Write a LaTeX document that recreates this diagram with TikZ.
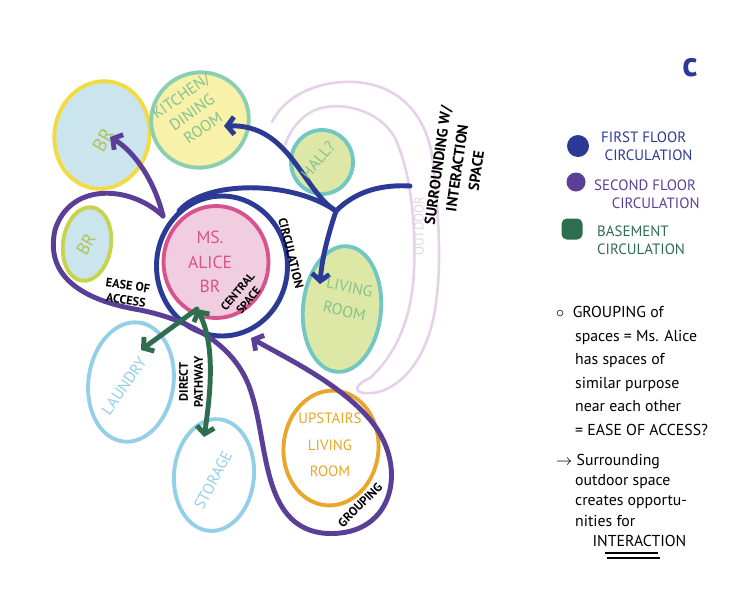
\documentclass[tikz,border=0pt]{standalone}
\usepackage{fontspec}
\setmainfont{PT Sans}
\usetikzlibrary{shapes.geometric,arrows.meta,calc}
\definecolor{fblue}{HTML}{2B3A94}
\definecolor{fpurple}{HTML}{5B3F97}
\definecolor{fgreen}{HTML}{2E6E4E}
\definecolor{outpink}{HTML}{E6D2E8}
\definecolor{bfill}{HTML}{CBE5EE}
\definecolor{yborder}{HTML}{F2DA40}
\definecolor{yfill}{HTML}{F7F1A9}
\definecolor{tealb}{HTML}{72C7C2}
\definecolor{kitb}{HTML}{8CCFB0}
\definecolor{gfill}{HTML}{DDE8A6}
\definecolor{oliveb}{HTML}{C9D24C}
\definecolor{pfill}{HTML}{F1CDE0}
\definecolor{pline}{HTML}{D75390}
\definecolor{lblue}{HTML}{94CFEA}
\definecolor{orangeb}{HTML}{E9A62A}
\definecolor{olivet}{HTML}{B2C257}
\definecolor{greent}{HTML}{86C190}
\begin{document}
\begin{tikzpicture}[x=0.02cm,y=-0.02cm,
  room/.style={ellipse, line width=2.2pt, inner sep=0pt},
  inlbl/.style={font=\fontsize{9}{11}\selectfont, align=center},
  ann/.style={font=\bfseries\fontsize{7}{8.5}\selectfont, align=center, text=black},
  flow/.style={line width=2.8pt, line cap=round},
  tipped/.style={-{Straight Barb[length=4pt,width=10pt]}},
  legend/.style={font=\fontsize{8.5}{10.5}\selectfont, align=left, anchor=west},
  note/.style={font=\fontsize{9}{13.4}\selectfont, align=left, anchor=north west, text=black},
  swatch/.style={circle, minimum size=0.44cm, inner sep=0pt}]
\useasboundingbox (0,0) rectangle (736,596);
\fill[white] (0,0) rectangle (736,596);

% outdoor band
\draw[outpink, line width=1.5pt, line cap=round]
  (272,122) .. controls (285,95) and (320,80) .. (355,82)
  .. controls (400,85) and (425,115) .. (432,155)
  .. controls (440,220) and (445,300) .. (425,345)
  .. controls (410,380) and (385,395) .. (365,393)
  .. controls (352,392) and (356,384) .. (370,378)
  .. controls (395,355) and (412,320) .. (414,270)
  .. controls (416,220) and (410,170) .. (395,138)
  .. controls (380,110) and (340,100) .. (315,110)
  .. controls (300,117) and (290,130) .. (285,145);
\node[font=\fontsize{7.5}{9}\selectfont, text=outpink, rotate=90] (outdoor) at (419,226) {OUTDOOR};

% rooms
\node[room, draw=yborder, fill=bfill, minimum width=1.9cm, minimum height=2.16cm, rotate=-10] (br1) at (102,135) {};
\node[room, draw=kitb, fill=yfill, minimum width=1.96cm, minimum height=1.9cm, rotate=20] (kit) at (200,120) {};
\node[room, draw=tealb, fill=gfill, minimum width=1.24cm, minimum height=1.28cm] (hall) at (322,162) {};
\node[room, draw=oliveb, fill=bfill, minimum width=0.96cm, minimum height=1.48cm, rotate=-8] (br2) at (87,244) {};
\node[room, draw=pline, fill=pfill, minimum width=2.1cm, minimum height=2.24cm] (alice) at (216,262) {};
\node[room, draw=fblue, line width=2.8pt, minimum width=2.62cm, minimum height=2.8cm] (ring) at (222,266) {};
\node[room, draw=tealb, fill=gfill, minimum width=1.56cm, minimum height=2.52cm, rotate=-5] (living) at (342,309) {};
\node[room, draw=lblue, fill=white, minimum width=1.7cm, minimum height=2.4cm, rotate=-8] (laundry) at (131,382) {};
\node[room, draw=lblue, fill=white, minimum width=1.6cm, minimum height=2.24cm, rotate=-5] (storage) at (214,475) {};
\node[room, draw=orangeb, fill=white, minimum width=1.9cm, minimum height=2.3cm, rotate=-5] (upstairs) at (331,448) {};

% coordinates
\coordinate (J) at (336,211);
\coordinate (R) at (410,186);
\coordinate (kitTip) at (224,126);
\coordinate (livTip) at (320,284);
\coordinate (ringTL) at (179,211);
\coordinate (P0) at (163,216);
\coordinate (brTip) at (110,137);
\coordinate (purTip) at (251,338);
\coordinate (G) at (197,309);
\coordinate (lauTip) at (141,350);
\coordinate (stoTip) at (204,437);

% blue first floor circulation
\draw[flow, fblue, tipped] (J) .. controls (302,190) and (290,124) .. (kitTip);
\draw[flow, fblue] (R) .. controls (375,184) and (352,195) .. (J);
\draw[flow, fblue] (ringTL) .. controls (205,180) and (292,180) .. (J);
\draw[flow, fblue, tipped] (J) .. controls (328,235) and (322,258) .. (livTip);

% purple second floor circulation
\draw[flow, fpurple, tipped] (P0) .. controls (155,182) and (135,152) .. (brTip);
\draw[flow, fpurple, tipped] (P0) .. controls (130,185) and (70,182) .. (55,230)
  .. controls (45,275) and (80,300) .. (140,310)
  .. controls (190,320) and (238,345) .. (252,395)
  .. controls (268,445) and (262,525) .. (322,533)
  .. controls (392,540) and (410,470) .. (372,422)
  .. controls (342,385) and (290,360) .. (purTip);

% green basement circulation
\draw[flow, fgreen, tipped] (G) -- (lauTip);
\draw[flow, fgreen, {Straight Barb[length=4pt,width=10pt]}-{Straight Barb[length=4pt,width=10pt]}] (G) .. controls (214,342) and (212,385) .. (stoTip);

% room labels
\node[inlbl, text=olivet, rotate=60, font=\fontsize{11}{12}\selectfont] (tbr1) at (103,140) {BR};
\node[inlbl, text=greent, rotate=35] (tkit) at (192,112) {KITCHEN/\\DINING\\ROOM};
\node[inlbl, text=greent, rotate=50] (thall) at (318,160) {HALL?};
\node[inlbl, text=olivet, rotate=60, font=\fontsize{10}{11}\selectfont] (tbr2) at (86,244) {BR};
\node[inlbl, text=pline, font=\fontsize{10}{14}\selectfont] (talice) at (210,262) {MS.\\ALICE\\BR};
\node[inlbl, text=greent, rotate=-12, font=\fontsize{9}{14}\selectfont] (tliving) at (347,299) {LIVING\\ROOM};
\node[inlbl, text=lblue, rotate=55] (tlaundry) at (124,386) {LAUNDRY};
\node[inlbl, text=lblue, rotate=62] (tstorage) at (213,480) {STORAGE};
\node[inlbl, text=orangeb, font=\fontsize{8.5}{15}\selectfont] (tup) at (330,445) {UPSTAIRS\\LIVING\\ROOM};

% annotations
\node[ann, rotate=-8] (tease) at (127,293) {EASE OF\\ACCESS};
\node[ann, rotate=-76] (tcirc) at (291,253) {CIRCULATION};
\node[ann, rotate=50, font=\bfseries\fontsize{6.5}{8}\selectfont] (tcentral) at (243,296) {CENTRAL\\SPACE};
\node[ann, rotate=90] (tdirect) at (191,382) {DIRECT\\PATHWAY};
\node[ann, rotate=45] (tgroup) at (360,505) {GROUPING};
\node[ann, rotate=82, font=\bfseries\fontsize{8.5}{11}\selectfont] (tsurr) at (457,168) {SURROUNDING W/\\INTERACTION\\SPACE};

% legend
\node[text=fblue, font=\bfseries\fontsize{20}{20}\selectfont] (C) at (690,68) {c};
\node[swatch, fill=fblue] (swb) at (578,146) {};
\node[swatch, fill=fpurple, minimum size=0.38cm] (swp) at (576,182) {};
\node[swatch, fill=fgreen, rectangle, rounded corners=3pt, minimum size=0.42cm] (swg) at (572,229) {};
\node[legend, text=fblue] (lb) at (595,146) {FIRST FLOOR\\\hspace*{2pt}CIRCULATION};
\node[legend, text=fpurple] (lp) at (588,194) {SECOND FLOOR\\\hspace*{10pt}CIRCULATION};
\node[legend, text=fgreen] (lg) at (591,240) {BASEMENT\\CIRCULATION};

% notes
\node[note] (n1) at (550,300) {$\circ$\ \ GROUPING of\\
\hspace*{1.2em}spaces = Ms. Alice\\
\hspace*{1.2em}has spaces of\\
\hspace*{1.2em}similar purpose\\
\hspace*{1.2em}near each other\\
\hspace*{1.2em}= EASE OF ACCESS?};
\node[note, font=\fontsize{9}{11.5}\selectfont] (n2) at (550,448) {$\rightarrow$ Surrounding\\
\hspace*{1.2em}outdoor space\\
\hspace*{1.2em}creates opportu-\\
\hspace*{1.2em}nities for\\
\hspace*{2.3em}INTERACTION};
\coordinate (u1) at (605,553);
\coordinate (u2) at (658,553);
\coordinate (u3) at (607,558);
\coordinate (u4) at (660,558);
\draw[line width=0.8pt] (u1) -- (u2);
\draw[line width=0.8pt] (u3) -- (u4);
\end{tikzpicture}
\end{document}
